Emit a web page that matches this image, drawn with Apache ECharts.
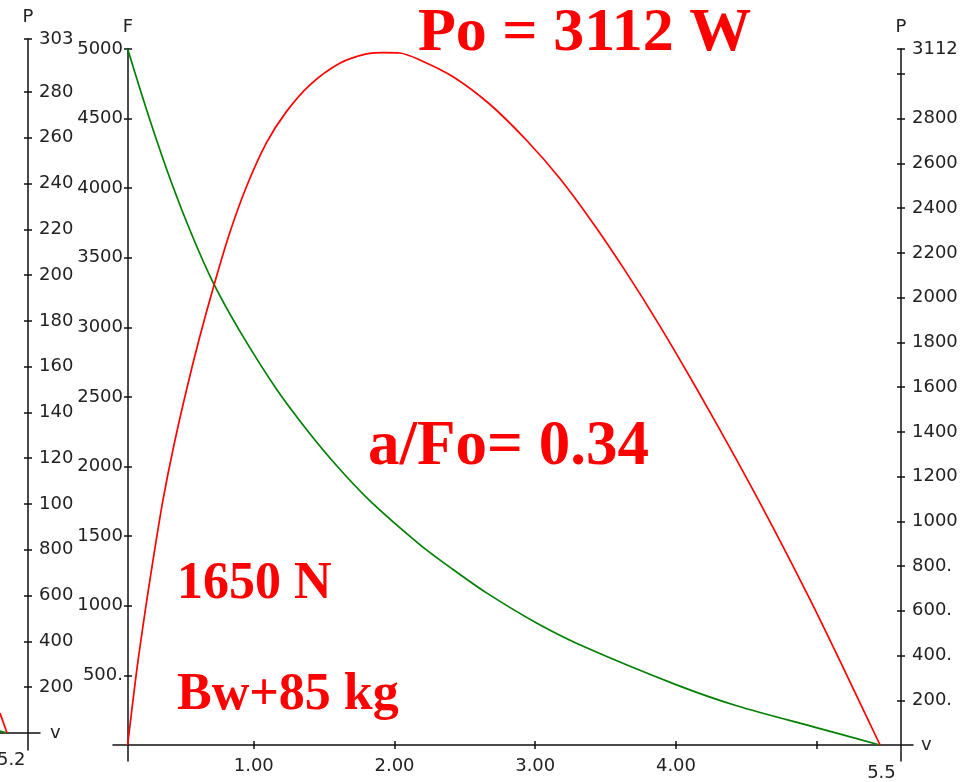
<!DOCTYPE html>
<html>
<head>
<meta charset="utf-8">
<title>F and P against v</title>
<script src="https://cdn.jsdelivr.net/npm/echarts@6/dist/echarts.min.js"></script>
<style>
  html, body { margin: 0; padding: 0; background: #fff; }
  #main { width: 970px; height: 782px; }
</style>
</head>
<body>
<div id="main"></div>
<script>
// force curve (green), v in m/s, F in N
var forceV = [0.104, 0.261, 0.417, 0.566, 0.716, 0.900, 1.161, 1.375, 1.588, 1.824,
              2.180, 2.416, 2.654, 3.009, 3.365, 4.004, 4.431, 5.023, 5.447];
var forceN = [5000, 4494, 4036, 3651, 3312, 2975, 2557, 2267, 2008, 1756,
              1440, 1261, 1093, 877, 698, 432, 282, 118, 0];

// power curve (red), P in W
var powerV = [0.104, 0.166, 0.237, 0.296, 0.355, 0.426, 0.522, 0.616, 0.718, 0.829, 0.948, 1.090,
              1.232, 1.398, 1.611, 1.801, 1.931, 2.038, 2.180, 2.416, 2.677, 2.938, 3.175, 3.412,
              3.649, 3.886, 4.146, 4.431, 4.691, 4.952, 5.165, 5.45];
var powerW = [0, 321, 634, 872, 1095, 1320, 1587, 1824, 2057, 2289, 2496, 2692,
              2832, 2951, 3048, 3090, 3096, 3094, 3063, 2988, 2865, 2704, 2533, 2332,
              2111, 1873, 1594, 1275, 971, 651, 376, 0];

// tail of the neighbouring chart cut off on the left
var prevV = [5.15, 5.2];
var prevPower = [87, 0];
var prevForce = [14, 0];

// ticks and labels
var fTicks = [500, 1000, 1500, 2000, 2500, 3000, 3500, 4000, 4500, 5000];
var pTicks = [200, 400, 600, 800, 1000, 1200, 1400, 1600, 1800, 2000, 2200, 2400, 2600, 2800, 3000, 3112];
var pLabels = [200, 400, 600, 800, 1000, 1200, 1400, 1600, 1800, 2000, 2200, 2400, 2600, 2800, 3112];
var vTicks = [1, 2, 3, 4, 5];
var vLabels = [1, 2, 3, 4, 5.46];
var prevTicks = [200, 400, 600, 800, 1000, 1200, 1400, 1600, 1800, 2000, 2200, 2400, 2600, 2800, 3031];

function pairs(xs, ys) {
  return xs.map(function (x, i) { return [x, ys[i]]; });
}
function lab(v) {
  return v < 1000 ? v + '.' : String(v);
}

var axisCol = '#111';
var txt = { fontFamily: 'DejaVu Sans', fontSize: 18, color: '#222' };
var big = 'bold {s}px "Liberation Serif", "Times New Roman", serif';
var tickStyle = { color: axisCol, width: 1.5 };

// second copy of an axis that only draws the inner half of the ticks,
// so the ticks cross the axis line like in the original
function innerTicks(ax) {
  return {
    gridIndex: ax.gridIndex, type: 'value', position: ax.position, offset: ax.offset,
    min: ax.min, max: ax.max,
    axisLine: { show: false, onZero: false },
    axisTick: { inside: true, length: 4, customValues: ax.axisTick.customValues, lineStyle: tickStyle },
    axisLabel: { show: false },
    splitLine: { show: false }
  };
}

var vAxis = {
  gridIndex: 0, type: 'value', min: 0, max: 5.684, position: 'bottom', offset: -16,
  name: 'v', nameLocation: 'end', nameGap: 8, nameTextStyle: txt,
  axisLine: { onZero: false, lineStyle: { color: axisCol, width: 1.5 } },
  axisTick: { customValues: vTicks, length: 4, lineStyle: tickStyle },
  axisLabel: {
    customValues: vLabels, margin: 12,
    fontFamily: txt.fontFamily, fontSize: txt.fontSize, color: txt.color,
    formatter: function (v) { return v > 5 ? '{e|5.5}' : v.toFixed(2); },
    rich: { e: { fontFamily: txt.fontFamily, fontSize: txt.fontSize, color: txt.color, padding: [7, 0, 0, 0] } }
  },
  splitLine: { show: false }
};
var prevVAxis = {
  gridIndex: 1, type: 'value', min: 5.15, max: 5.4343, position: 'bottom', offset: -17,
  name: 'v', nameLocation: 'end', nameGap: 10, nameTextStyle: txt,
  axisLine: { onZero: false, lineStyle: { color: axisCol, width: 1.5 } },
  axisTick: { show: false },
  axisLabel: {
    customValues: [5.23], margin: 18,
    fontFamily: txt.fontFamily, fontSize: txt.fontSize, color: txt.color,
    formatter: function () { return '5.2'; }
  },
  splitLine: { show: false }
};
var fAxis = {
  gridIndex: 0, type: 'value', position: 'left', offset: -15, min: -114.94, max: 5000,
  name: 'F', nameLocation: 'end', nameGap: 13, nameTextStyle: txt,
  axisLine: { onZero: false, lineStyle: { color: axisCol, width: 1.5 } },
  axisTick: { customValues: fTicks, length: 4, lineStyle: tickStyle },
  axisLabel: { customValues: fTicks, margin: 5, formatter: lab,
    fontFamily: txt.fontFamily, fontSize: txt.fontSize, color: txt.color },
  splitLine: { show: false }
};
var pAxis = {
  gridIndex: 0, type: 'value', position: 'right', offset: -12, min: -71.54, max: 3112,
  name: 'P', nameLocation: 'end', nameGap: 13, nameTextStyle: txt,
  axisLine: { onZero: false, lineStyle: { color: axisCol, width: 1.5 } },
  axisTick: { customValues: pTicks, length: 4, lineStyle: tickStyle },
  axisLabel: { customValues: pLabels, margin: 11, formatter: lab,
    fontFamily: txt.fontFamily, fontSize: txt.fontSize, color: txt.color },
  splitLine: { show: false }
};
var prevPAxis = {
  gridIndex: 1, type: 'value', position: 'right', offset: -12, min: -74.25, max: 3031,
  name: 'P', nameLocation: 'end', nameGap: 13, nameTextStyle: txt,
  axisLine: { onZero: false, lineStyle: { color: axisCol, width: 1.5 } },
  axisTick: { customValues: prevTicks, length: 4, lineStyle: tickStyle },
  axisLabel: { customValues: prevTicks, margin: 11,
    formatter: function (v) { return lab(v).slice(0, 3); },
    fontFamily: txt.fontFamily, fontSize: txt.fontSize, color: txt.color },
  splitLine: { show: false }
};
var prevFAxis = { gridIndex: 1, type: 'value', show: false, min: -122.1, max: 4985.6 };

var chart = echarts.init(document.getElementById('main'));

var option = {
  animation: false,
  grid: [
    { left: 113, right: 57, top: 49, bottom: 21, outerBoundsMode: 'none' },
    { left: 0, width: 40, top: 39, bottom: 32, outerBoundsMode: 'none' }
  ],
  xAxis: [vAxis, prevVAxis, innerTicks(vAxis)],
  yAxis: [fAxis, pAxis, prevPAxis, prevFAxis, innerTicks(fAxis), innerTicks(pAxis), innerTicks(prevPAxis)],
  series: [
    { type: 'line', name: 'F', xAxisIndex: 0, yAxisIndex: 0, data: pairs(forceV, forceN),
      smooth: 0.3, showSymbol: false, lineStyle: { color: '#008000', width: 1.7 }, z: 3 },
    { type: 'line', name: 'P', xAxisIndex: 0, yAxisIndex: 1, data: pairs(powerV, powerW),
      smooth: 0.3, showSymbol: false, lineStyle: { color: '#ff0000', width: 1.7 }, z: 4 },
    { type: 'line', xAxisIndex: 1, yAxisIndex: 3, data: pairs(prevV, prevForce),
      showSymbol: false, lineStyle: { color: '#008000', width: 1.7 } },
    { type: 'line', xAxisIndex: 1, yAxisIndex: 2, data: pairs(prevV, prevPower),
      showSymbol: false, lineStyle: { color: '#ff0000', width: 1.7 } }
  ],
  graphic: [
    { type: 'text', left: 418, top: 3,
      style: { text: 'Po = 3112 W', font: big.replace('{s}', 62), fill: '#ff0000' } },
    { type: 'text', left: 368, top: 416,
      style: { text: 'a/Fo= 0.34', font: big.replace('{s}', 63), fill: '#ff0000' } },
    { type: 'text', left: 177, top: 559,
      style: { text: '1650 N', font: big.replace('{s}', 52), fill: '#ff0000' } },
    { type: 'text', left: 177, top: 670,
      style: { text: 'Bw+85 kg', font: big.replace('{s}', 52), fill: '#ff0000' } }
  ]
};

chart.setOption(option);
</script>
</body>
</html>
